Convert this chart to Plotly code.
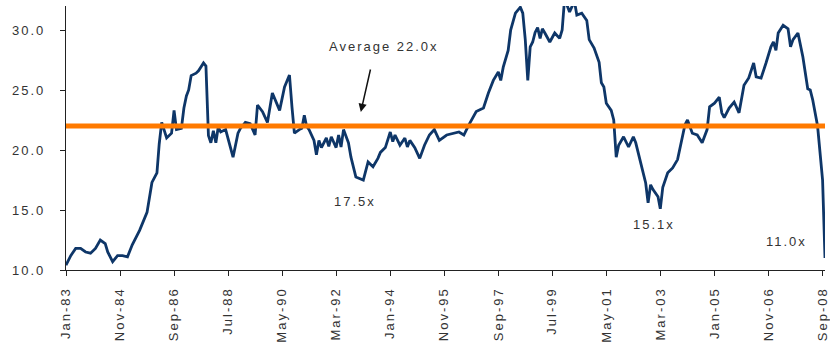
import plotly.graph_objects as go
import pandas as pd

# Monthly P/E readings (YYYY-MM), grouped by year
months = [
    "1983-01", "1983-03", "1983-05", "1983-07", "1983-09", "1983-11",
    "1984-01", "1984-03", "1984-05", "1984-06", "1984-08", "1984-10", "1984-12",
    "1985-02", "1985-04", "1985-07", "1985-10", "1985-12",
    "1986-02", "1986-03", "1986-04", "1986-06", "1986-08", "1986-09", "1986-10", "1986-12",
    "1987-01", "1987-02", "1987-03", "1987-04", "1987-06", "1987-07", "1987-09", "1987-10", "1987-11", "1987-12",
    "1988-01", "1988-02", "1988-03", "1988-04", "1988-06", "1988-07", "1988-08", "1988-09", "1988-11", "1988-12",
    "1989-02", "1989-04", "1989-06", "1989-07", "1989-09", "1989-11",
    "1990-01", "1990-02", "1990-04", "1990-06", "1990-08", "1990-09", "1990-10", "1990-12",
    "1991-01", "1991-02", "1991-03", "1991-04", "1991-06", "1991-07", "1991-08", "1991-09", "1991-11", "1991-12",
    "1992-01", "1992-03", "1992-04", "1992-05", "1992-06", "1992-08", "1992-09", "1992-11",
    "1993-01", "1993-02", "1993-04", "1993-06", "1993-08", "1993-09", "1993-11",
    "1994-01", "1994-02", "1994-03", "1994-05", "1994-07", "1994-08", "1994-09", "1994-11",
    "1995-01", "1995-03", "1995-05", "1995-07", "1995-09", "1995-12",
    "1996-03", "1996-05", "1996-07", "1996-09", "1996-12",
    "1997-03", "1997-05", "1997-06", "1997-07", "1997-09", "1997-10", "1997-11",
    "1998-01", "1998-02", "1998-04", "1998-06", "1998-07", "1998-08", "1998-09", "1998-10", "1998-11", "1998-12",
    "1999-01", "1999-02", "1999-03", "1999-04", "1999-06", "1999-08", "1999-10", "1999-11", "1999-12",
    "2000-02", "2000-04", "2000-05", "2000-07", "2000-09", "2000-10", "2000-12",
    "2001-02", "2001-03", "2001-04", "2001-05", "2001-07", "2001-08", "2001-09", "2001-10", "2001-12",
    "2002-02", "2002-04", "2002-05", "2002-07", "2002-09", "2002-10", "2002-11", "2002-12",
    "2003-02", "2003-03", "2003-04", "2003-06", "2003-08", "2003-10", "2003-12",
    "2004-01", "2004-02", "2004-04", "2004-06", "2004-08", "2004-10", "2004-11",
    "2005-01", "2005-03", "2005-04", "2005-05", "2005-07", "2005-09", "2005-11",
    "2006-01", "2006-03", "2006-05", "2006-06", "2006-08", "2006-10", "2006-12",
    "2007-01", "2007-02", "2007-03", "2007-05", "2007-07", "2007-08", "2007-09", "2007-11",
    "2008-01", "2008-03", "2008-04", "2008-05", "2008-07", "2008-08", "2008-09", "2008-10",
]

pe = [
    10.4, 11.2, 11.8, 11.8, 11.5, 11.4,
    11.8, 12.5, 12.2, 11.5, 10.7, 11.2, 11.2,
    11.1, 12.1, 13.3, 14.8, 17.3,
    18.1, 20.5, 22.3, 21.0, 21.4, 23.3, 21.7, 21.8,
    23.5, 24.5, 25.0, 26.2, 26.4, 26.6, 27.25, 27.0, 21.2, 20.6,
    21.6, 20.6, 21.9, 21.5, 21.7, 21.0, 20.2, 19.4, 21.4, 21.8,
    22.3, 22.2, 21.25, 23.75, 23.2, 22.3,
    24.75, 24.3, 23.3, 25.25, 26.25, 23.6, 21.4, 21.7,
    21.8, 22.9, 22.0, 21.7, 20.8, 19.6, 20.8, 20.2, 21.0, 20.3,
    21.1, 20.2, 21.25, 20.25, 21.7, 20.6, 19.4, 17.75,
    17.6, 17.5, 19.0, 18.6, 19.3, 19.8, 20.2,
    21.5, 20.7, 21.25, 20.4, 21.0, 20.25, 20.8, 20.2,
    19.3, 20.4, 21.25, 21.7, 20.8, 21.25,
    21.4, 21.5, 21.25, 22.1, 23.2,
    23.5, 24.75, 25.25, 25.8, 26.5, 25.8, 26.9,
    28.3, 30.0, 31.4, 31.9, 31.4, 29.2, 25.8, 28.6, 29.0, 29.8,
    30.2, 29.3, 30.1, 29.75, 29.0, 29.75, 29.3, 30.0, 32.6,
    31.5, 32.4, 31.25, 31.4, 30.8, 29.2, 28.5,
    27.3, 25.6, 25.25, 23.9, 23.3, 22.5, 19.4, 20.4, 21.1,
    20.25, 21.1, 20.6, 18.9, 17.25, 15.6, 17.1, 16.7,
    16.1, 15.1, 16.9, 18.1, 18.5, 19.2, 21.1,
    22.1, 22.5, 21.4, 21.25, 20.6, 21.7, 23.6,
    23.9, 24.4, 23.1, 22.7, 23.5, 24.0, 23.1,
    25.4, 26.0, 27.25, 26.1, 26.0, 27.25, 28.6,
    29.0, 28.3, 29.75, 30.4, 30.1, 28.6, 29.2, 29.75,
    27.75, 25.1, 25.0, 24.2, 22.0, 20.0, 17.5, 11.0,
]
assert len(months) == len(pe), (len(months), len(pe))

average = 22.0
# trough labels: (value, month of the trough)
trough_values = [17.5, 15.1, 11.0]
trough_months = ["1993-02", "2003-03", "2008-10"]
tick_labels = ["Jan-83", "Nov-84", "Sep-86", "Jul-88", "May-90", "Mar-92", "Jan-94",
               "Nov-95", "Sep-97", "Jul-99", "May-01", "Mar-03", "Jan-05", "Nov-06", "Sep-08"]
y_ticks = [10, 15, 20, 25, 30]

dates = pd.to_datetime(months, format="%Y-%m")
tick_dates = pd.to_datetime(tick_labels, format="%b-%y")

NAVY = "#0e3668"
ORANGE = "#ff7a00"
TXT = "#333333"
FONT = "Liberation Sans, Arial, sans-serif"

fig = go.Figure()
fig.add_trace(go.Scatter(x=dates, y=pe, mode="lines",
                         line=dict(color=NAVY, width=2.8), hoverinfo="skip"))
fig.add_trace(go.Scatter(x=[dates[0], dates[-1]], y=[average, average], mode="lines",
                         line=dict(color=ORANGE, width=5), hoverinfo="skip"))

# labels under the troughs, offset in pixels from the trough points
offsets = [(-8, -21), (-6, -16), (-39, 17)]
for v, m, (dx, dy) in zip(trough_values, trough_months, offsets):
    i = months.index(m)
    fig.add_annotation(x=dates[i], y=pe[i], text=f"{v:.1f}x", showarrow=False,
                       xshift=dx, yshift=dy, font=dict(family=FONT, size=13, color=TXT))

# average label and arrow pointing at the average line
fig.add_annotation(x=pd.Timestamp("1993-10-12"), y=average, text=f"Average {average:.1f}x",
                   showarrow=False, yshift=80, font=dict(family=FONT, size=13, color=TXT))
fig.add_annotation(x=pd.Timestamp("1993-01-01"), y=average, text="", showarrow=True,
                   yshift=14, ax=10, ay=-44, arrowhead=2, arrowsize=1.1,
                   arrowwidth=1.5, arrowcolor="#111111")

fig.update_layout(
    width=830, height=350,
    margin=dict(l=66, r=0, t=6, b=80),
    plot_bgcolor="white", paper_bgcolor="white",
    showlegend=False,
    font=dict(family=FONT, size=13, color=TXT),
    xaxis=dict(
        range=[dates[0], dates[-1]],
        tickmode="array", tickvals=tick_dates, ticktext=tick_labels,
        tickangle=-90, ticks="outside", ticklen=5, tickcolor="#222222",
        ticklabelstandoff=6, ticklabeloverflow="allow",
        showline=True, linecolor="#222222", linewidth=1.2,
        showgrid=False, zeroline=False,
        tickfont=dict(family=FONT, size=13, color=TXT),
    ),
    yaxis=dict(
        range=[10, 32],
        tickmode="array", tickvals=y_ticks, tickformat=".1f",
        ticks="outside", ticklen=5, tickcolor="#222222",
        ticklabelstandoff=12,
        showline=True, linecolor="#222222", linewidth=1.2,
        showgrid=False, zeroline=False,
        tickfont=dict(family=FONT, size=13, color=TXT),
    ),
)

spacing_js = """
var gd = document.getElementById('{plot_id}');
gd.querySelectorAll('.xtick text, .ytick text, .annotation-text').forEach(function (t) {
    t.style.letterSpacing = '2px';
});
"""

fig.write_html("out.html", post_script=spacing_js)
